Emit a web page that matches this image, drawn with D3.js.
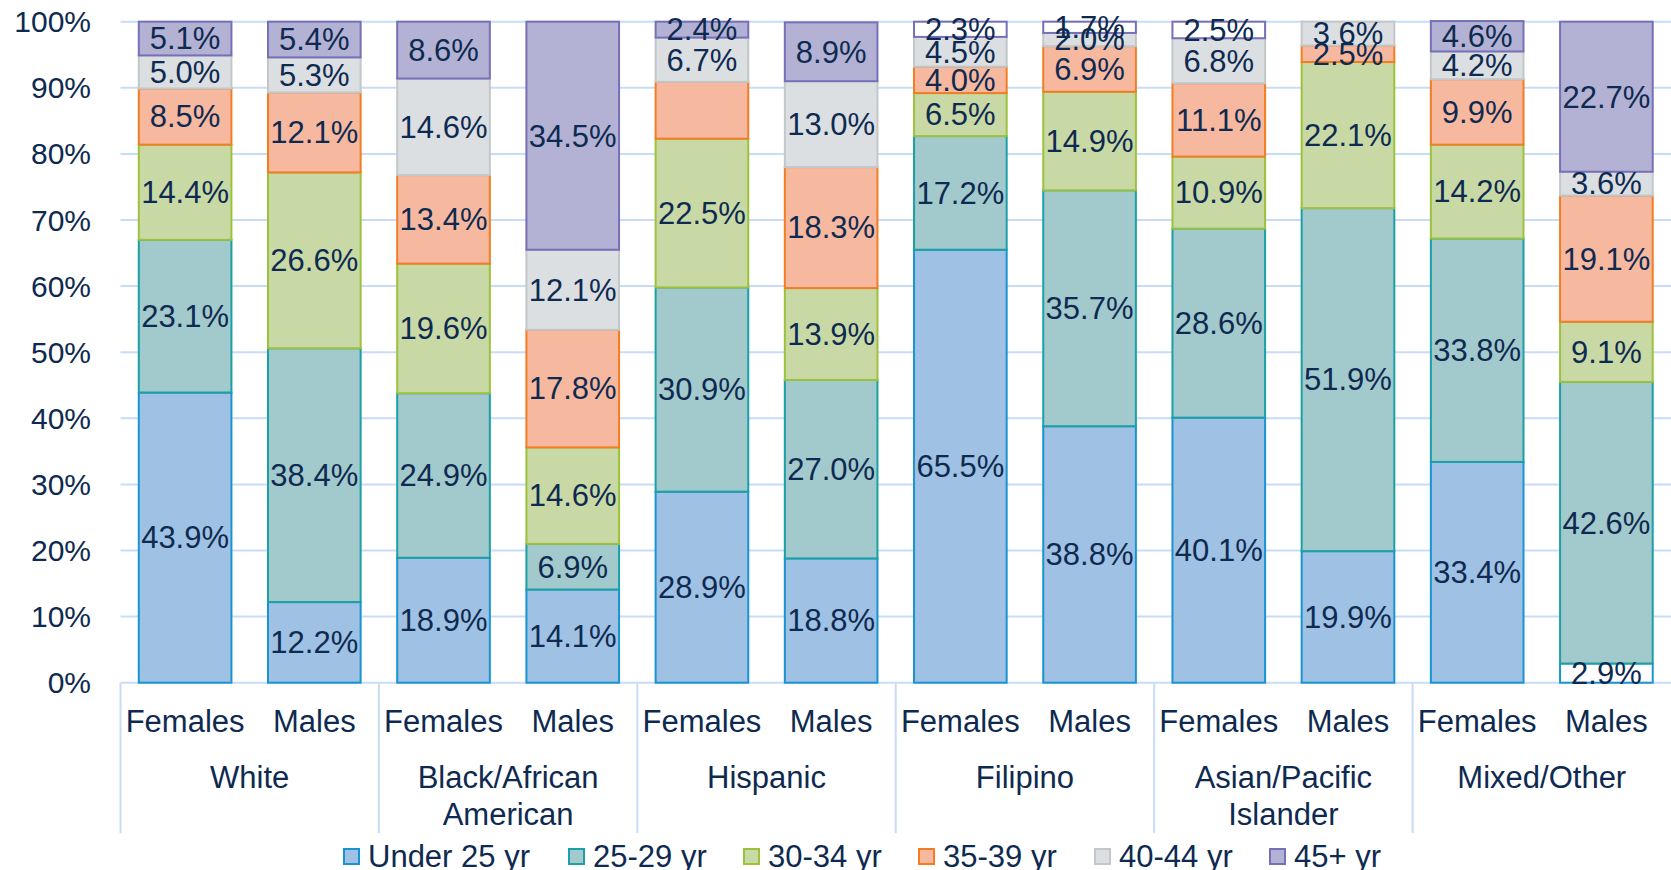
<!DOCTYPE html>
<html lang="en">
<head>
  <meta charset="UTF-8">
  <title>Age distribution by race/ethnicity and sex</title>
  <script src="https://d3js.org/d3.v7.min.js"></script>
  <style>
    body, html {
      margin: 0;
      padding: 0;
      overflow: hidden;
      background: #fff;
    }
    svg text {
      font-family: Arial, "Liberation Sans", sans-serif;
      fill: #0e2a50;
    }
  </style>
</head>
<body>
  <svg id="chart" width="1671" height="870"></svg>
  <script>
    // Data (percent of each bar)
    const groups = ['White', 'Black/African\nAmerican', 'Hispanic', 'Filipino', 'Asian/Pacific\nIslander', 'Mixed/Other'];
    const sexes = ['Females', 'Males'];
    const ageBands = ['Under 25 yr', '25-29 yr', '30-34 yr', '35-39 yr', '40-44 yr', '45+ yr'];

    // order: White F, White M, Black F, Black M, Hispanic F, Hispanic M, Filipino F, Filipino M, Asian F, Asian M, Mixed F, Mixed M
    const under25 = [43.9, 12.2, 18.9, 14.1, 28.9, 18.8, 65.5, 38.8, 40.1, 19.9, 33.4, 2.9];
    const age25to29 = [23.1, 38.4, 24.9, 6.9, 30.9, 27.0, 17.2, 35.7, 28.6, 51.9, 33.8, 42.6];
    const age30to34 = [14.4, 26.6, 19.6, 14.6, 22.5, 13.9, 6.5, 14.9, 10.9, 22.1, 14.2, 9.1];
    const age35to39 = [8.5, 12.1, 13.4, 17.8, 8.6, 18.3, 4.0, 6.9, 11.1, 2.5, 9.9, 19.1];
    const age40to44 = [5.0, 5.3, 14.6, 12.1, 6.7, 13.0, 4.5, 2.0, 6.8, 3.6, 4.2, 3.6];
    const age45plus = [5.1, 5.4, 8.6, 34.5, 2.4, 8.9, 2.3, 1.7, 2.5, 0, 4.6, 22.7];
    const yTicks = [0, 10, 20, 30, 40, 50, 60, 70, 80, 90, 100];

    // segments drawn without fill in the original, and the one unlabeled segment
    const whiteCells = [[6, 5], [7, 5], [8, 5], [11, 0]];
    const hiddenLabels = [[4, 3]];

    const series = [under25, age25to29, age30to34, age35to39, age40to44, age45plus];
    const fills = ['#9fc1e3', '#a2c9cc', '#c8d9a6', '#f7b8a0', '#dcdfe2', '#b3b2d4'];
    const strokes = ['#1a93d2', '#1aa0a6', '#9cc23c', '#f27d22', '#c2c7c9', '#7670b8'];

    const svg = d3.select('#chart');
    const plotLeft = 120.5, plotRight = 1671, plotTop = 21.7, plotBottom = 682.7;
    const nBars = groups.length * sexes.length;

    const x = d3.scaleBand()
      .domain(d3.range(nBars))
      .range([plotLeft, plotRight])
      .paddingInner(0.283)
      .paddingOuter(0.1415);

    const y = d3.scaleLinear().domain([0, 100]).range([plotBottom, plotTop]);

    // gridlines + ticks
    const grid = svg.append('g');
    grid.selectAll('line')
      .data(yTicks)
      .join('line')
      .attr('x1', plotLeft)
      .attr('x2', plotRight)
      .attr('y1', (d) => y(d))
      .attr('y2', (d) => y(d))
      .attr('stroke', '#c9dcf7')
      .attr('stroke-width', 2);

    grid.selectAll('text')
      .data(yTicks)
      .join('text')
      .attr('x', 91)
      .attr('y', (d) => y(d))
      .attr('dy', '0.35em')
      .attr('text-anchor', 'end')
      .attr('font-size', 30)
      .text((d) => d + '%');

    // stack the rows
    const rows = d3.range(nBars).map((i) => {
      const r = { i };
      series.forEach((s, k) => { r[k] = s[i]; });
      return r;
    });
    const stacked = d3.stack().keys(d3.range(series.length))(rows);

    const isIn = (list, i, k) => list.some(([a, b]) => a === i && b === k);

    const layers = svg.append('g')
      .selectAll('g')
      .data(stacked)
      .join('g');

    layers.selectAll('rect')
      .data((layer) => layer.map((d) => ({ d, k: layer.key })).filter((o) => o.d[1] - o.d[0] > 0))
      .join('rect')
      .attr('x', (o) => x(o.d.data.i))
      .attr('width', x.bandwidth())
      .attr('y', (o) => y(o.d[1]))
      .attr('height', (o) => y(o.d[0]) - y(o.d[1]))
      .attr('fill', (o) => (isIn(whiteCells, o.d.data.i, o.k) ? '#fff' : fills[o.k]))
      .attr('stroke', (o) => strokes[o.k])
      .attr('stroke-width', 2);

    // data labels
    const labelGroup = svg.append('g');
    stacked.forEach((layer) => {
      layer.forEach((d) => {
        const v = d[1] - d[0];
        if (v <= 0 || isIn(hiddenLabels, d.data.i, layer.key)) return;
        labelGroup.append('text')
          .attr('x', x(d.data.i) + x.bandwidth() / 2)
          .attr('y', y((d[0] + d[1]) / 2))
          .attr('dy', '0.35em')
          .attr('text-anchor', 'middle')
          .attr('font-size', 31)
          .text(v.toFixed(1) + '%');
      });
    });

    // category axis
    const axis = svg.append('g');
    const groupWidth = (plotRight - plotLeft) / groups.length;

    axis.selectAll('line.divider')
      .data(d3.range(groups.length))
      .join('line')
      .attr('class', 'divider')
      .attr('x1', (g) => plotLeft + g * groupWidth)
      .attr('x2', (g) => plotLeft + g * groupWidth)
      .attr('y1', plotBottom)
      .attr('y2', 833)
      .attr('stroke', '#c9dcf7')
      .attr('stroke-width', 2);

    axis.selectAll('text.sex')
      .data(d3.range(nBars))
      .join('text')
      .attr('class', 'sex')
      .attr('x', (i) => x(i) + x.bandwidth() / 2)
      .attr('y', 731.5)
      .attr('text-anchor', 'middle')
      .attr('font-size', 31)
      .text((i) => sexes[i % 2]);

    groups.forEach((g, gi) => {
      const t = axis.append('text')
        .attr('x', plotLeft + (gi + 0.5) * groupWidth)
        .attr('y', 788)
        .attr('text-anchor', 'middle')
        .attr('font-size', 31);
      g.split('\n').forEach((line, li) => {
        t.append('tspan')
          .attr('x', plotLeft + (gi + 0.5) * groupWidth)
          .attr('dy', li === 0 ? 0 : 37)
          .text(line);
      });
    });

    // legend
    const legendX = [343, 568, 743, 918, 1094, 1269];
    const legend = svg.append('g')
      .selectAll('g')
      .data(ageBands)
      .join('g')
      .attr('transform', (d, k) => `translate(${legendX[k]},848)`);

    legend.append('rect')
      .attr('x', 1)
      .attr('y', 1)
      .attr('width', 15)
      .attr('height', 15)
      .attr('fill', (d, k) => fills[k])
      .attr('stroke', (d, k) => strokes[k])
      .attr('stroke-width', 2);

    legend.append('text')
      .attr('x', 25)
      .attr('y', 19)
      .attr('font-size', 31)
      .text((d) => d);
  </script>
</body>
</html>
